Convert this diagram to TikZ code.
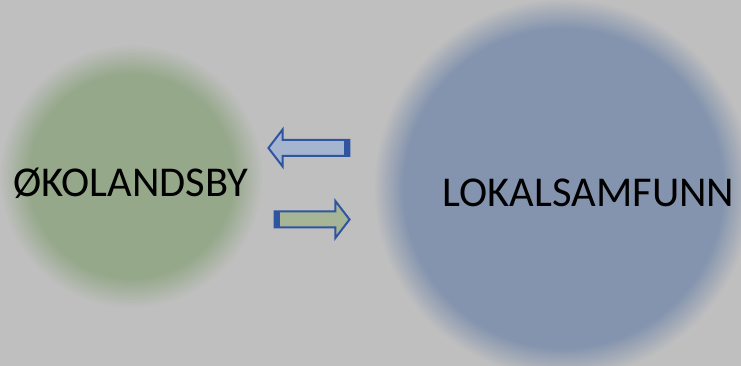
\documentclass[tikz,border=0pt]{standalone}
\usepackage{fontspec}
\setmainfont{Carlito}
\usetikzlibrary{shapes,arrows,calc,positioning}
\definecolor{bg}{HTML}{BFBFBF}
\definecolor{okogreen}{HTML}{95A88A}
\definecolor{lokalblue}{HTML}{8494AE}
\definecolor{arrowline}{HTML}{2F55A0}
\definecolor{arrowblue}{HTML}{A5B5CF}
\definecolor{arrowgreen}{HTML}{A6B595}
\pgfdeclareradialshading{greenblur}{\pgfpoint{0bp}{0bp}}{color(0bp)=(okogreen); color(19.3bp)=(okogreen); color(25bp)=(bg); color(50bp)=(bg)}
\pgfdeclareradialshading{blueblur}{\pgfpoint{0bp}{0bp}}{color(0bp)=(lokalblue); color(21bp)=(lokalblue); color(25bp)=(bg); color(50bp)=(bg)}
\tikzstyle{blob} = [circle, inner sep=0pt]
\tikzstyle{bigtext} = [font=\fontsize{42.5}{51}\selectfont, inner sep=0pt, anchor=base]
\tikzstyle{flow} = [single arrow, draw=arrowline, line width=2pt, inner sep=7pt,
single arrow head extend=10.5pt, single arrow tip angle=105]
\tikzstyle{tailbar} = [draw=arrowline, line width=6pt]

\begin{document}
\begin{tikzpicture}[x=1pt, y=1pt]

\useasboundingbox (0,0) rectangle (741,366);
\clip (0,0) rectangle (741,366);
\fill [bg] (0,0) rectangle (741,366);
\node [blob, shading=greenblur, minimum size=264pt] (oko) at (131,190) {};
\node [blob, shading=blueblur, minimum size=380pt] (lokal) at (563,178) {};
\node [bigtext] (okotext) at (130.5,169) {ØKOLANDSBY};
\node [bigtext] (lokaltext) at (588.5,159) {LOKALSAMFUNN};
\node [flow, fill=arrowblue, shape border rotate=180, minimum height=81pt] (toeko) at (312,218) {};
\node [flow, fill=arrowgreen, minimum height=75pt] (tolokal) at (309,146.5) {};
\draw [tailbar] ($(toeko.tail)!3pt!(toeko.tip)!8pt!90:(toeko.tip)$) -- ($(toeko.tail)!3pt!(toeko.tip)!8pt!-90:(toeko.tip)$);
\draw [tailbar] ($(tolokal.tail)!3pt!(tolokal.tip)!8pt!90:(tolokal.tip)$) -- ($(tolokal.tail)!3pt!(tolokal.tip)!8pt!-90:(tolokal.tip)$);
\end{tikzpicture}
\end{document}
